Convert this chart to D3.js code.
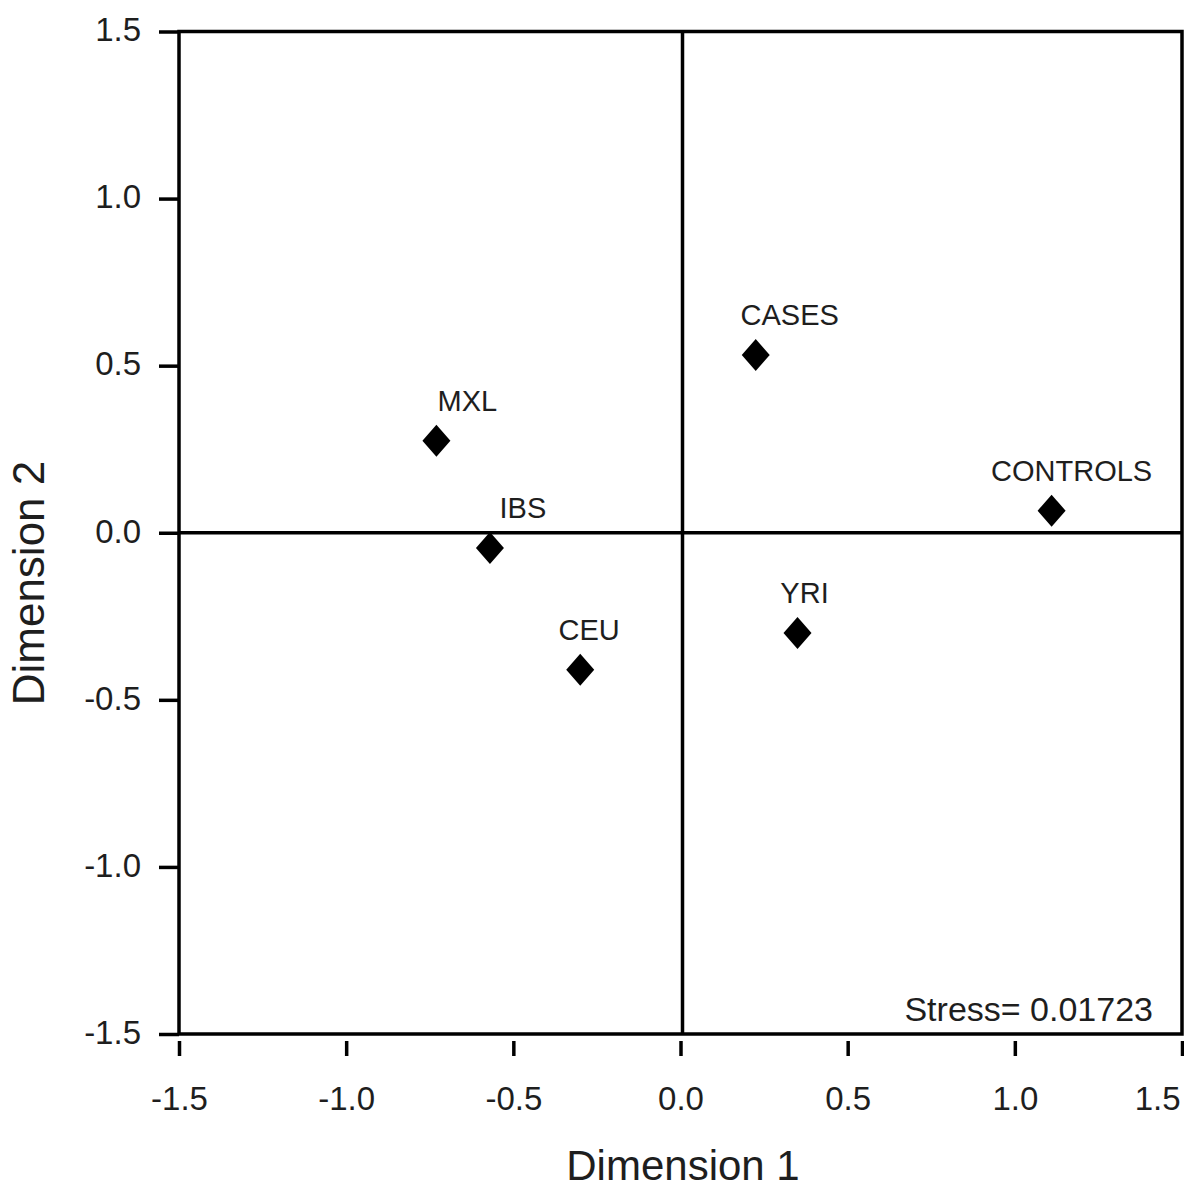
<!DOCTYPE html>
<html>
<head>
<meta charset="utf-8">
<script src="https://cdn.jsdelivr.net/npm/d3@7"></script>
<style>
  body { margin: 0; background: #fff; }
  svg { display: block; font-family: "Liberation Sans", Arial, sans-serif; }
  .tick text { fill: #1e1e1e; }
</style>
</head>
<body>
<div id="chart"></div>
<script>
// MDS configuration
const groups = ["MXL", "IBS", "CEU", "CASES", "CONTROLS", "YRI"];
const dim1 = [-0.73, -0.57, -0.30, 0.225, 1.11, 0.35];
const dim2 = [0.275, -0.046, -0.41, 0.532, 0.066, -0.30];
const tickValues = [-1.5, -1.0, -0.5, 0.0, 0.5, 1.0, 1.5];
const stressLabel = "Stress= 0.01723";

// label nudges (px) so text sits like the original
const labelDx = [31, 33, 9, 34, 20, 7];

const width = 1184, height = 1188;
const svg = d3.select("#chart").append("svg")
    .attr("width", width)
    .attr("height", height);

const x = d3.scaleLinear().domain([-1.5, 1.5]).range([179, 1182]);
const y = d3.scaleLinear().domain([-1.5, 1.5]).range([1034, 31.5]);
// plain hyphen for negatives, like the original
const fmt = (d) => d3.format(".1f")(d).replace("\u2212", "-");
const lw = 3.5;

// frame
svg.append("rect")
    .attr("x", x(-1.5))
    .attr("y", y(1.5))
    .attr("width", x(1.5) - x(-1.5))
    .attr("height", y(-1.5) - y(1.5))
    .attr("fill", "none")
    .attr("stroke", "#000")
    .attr("stroke-width", lw);

// zero reference lines
svg.append("line")
    .attr("x1", x(-1.5)).attr("x2", x(1.5))
    .attr("y1", y(0)).attr("y2", y(0))
    .attr("stroke", "#000").attr("stroke-width", lw);
svg.append("line")
    .attr("x1", x(0) + 2).attr("x2", x(0) + 2)
    .attr("y1", y(1.5)).attr("y2", y(-1.5))
    .attr("stroke", "#000").attr("stroke-width", lw);

// y axis
const yAxis = svg.append("g")
    .attr("transform", `translate(${x(-1.5)},0)`)
    .call(d3.axisLeft(y).tickValues(tickValues).tickFormat(fmt).tickSize(20).tickPadding(18));
yAxis.select(".domain").remove();
yAxis.selectAll(".tick line").attr("stroke", "#000").attr("stroke-width", lw);
yAxis.selectAll(".tick text").style("font-size", "33px").attr("dy", "0.28em");

// x axis (ticks sit detached below the frame)
const xAxis = svg.append("g")
    .attr("transform", `translate(0,${y(-1.5) + 7})`)
    .call(d3.axisBottom(x).tickValues(tickValues).tickFormat(fmt).tickSize(15).tickPadding(31));
xAxis.select(".domain").remove();
xAxis.selectAll(".tick line").attr("stroke", "#000").attr("stroke-width", lw);
xAxis.selectAll(".tick text").style("font-size", "33px");
// last label is pushed in so it stays on the page
xAxis.selectAll(".tick text")
    .filter((d) => d === 1.5)
    .attr("text-anchor", "end")
    .attr("x", -2);

// axis titles
svg.append("text")
    .attr("x", 683)
    .attr("y", 1180)
    .attr("text-anchor", "middle")
    .attr("fill", "#1e1e1e")
    .style("font-size", "42px")
    .text("Dimension 1");

svg.append("text")
    .attr("transform", "translate(44,583) rotate(-90)")
    .attr("text-anchor", "middle")
    .attr("fill", "#1e1e1e")
    .style("font-size", "44px")
    .text("Dimension 2");

// points
const pts = groups.map((g, i) => ({ name: g, d1: dim1[i], d2: dim2[i], dx: labelDx[i] }));
const diamond = "M0,-16L14,0L0,16L-14,0Z";

svg.append("g").selectAll("path")
    .data(pts)
    .join("path")
    .attr("d", diamond)
    .attr("transform", (d) => `translate(${x(d.d1)},${y(d.d2)})`)
    .attr("fill", "#000");

svg.append("g").selectAll("text")
    .data(pts)
    .join("text")
    .attr("x", (d) => x(d.d1) + d.dx)
    .attr("y", (d) => y(d.d2) - 30)
    .attr("text-anchor", "middle")
    .attr("fill", "#1e1e1e")
    .style("font-size", "29px")
    .text((d) => d.name);

// stress annotation
svg.append("text")
    .attr("x", 1153)
    .attr("y", 1021)
    .attr("text-anchor", "end")
    .attr("fill", "#1e1e1e")
    .style("font-size", "34px")
    .text(stressLabel);
</script>
</body>
</html>
